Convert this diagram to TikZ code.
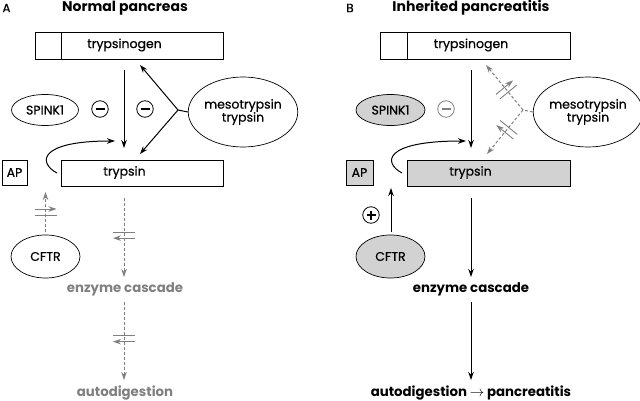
\documentclass[tikz,border=0pt]{standalone}
\usepackage{fontspec}
\setmainfont{Poppins}
\newfontfamily\labfont{Poppins}[FakeBold=0.6]
\usetikzlibrary{arrows.meta,decorations.markings,calc,shapes.geometric}
\definecolor{dgray}{HTML}{808080}
\definecolor{lfill}{HTML}{D2D2D2}
\tikzset{
  box/.style={draw,line width=0.7pt,minimum height=27pt,inner sep=0pt},
  ell/.style={draw,ellipse,line width=0.7pt,inner sep=0pt},
  lab/.style={font=\labfont\fontsize{12.5}{14}\selectfont,inner sep=0pt},
  ttl/.style={font=\fontsize{14}{16}\selectfont\bfseries,inner sep=0pt},
  blab/.style={font=\fontsize{13.3}{15}\selectfont\bfseries,inner sep=0pt},
  sgn/.style={draw,circle,line width=0.8pt,minimum size=16.5pt,inner sep=0pt},
  arr/.style={line width=1pt,-{Stealth[length=8pt,width=5.5pt]}},
  darr/.style={line width=1pt,dgray,dash pattern=on 3pt off 2pt,-{Stealth[length=8pt,width=5.5pt]}},
  dline/.style={line width=1pt,dgray,dash pattern=on 3pt off 2pt},
  blk/.style={postaction={decorate,decoration={markings,mark=at position #1 with {\draw[solid,dgray,line width=0.9pt] (-3,-11)--(-3,11) (3,-11)--(3,11);}}}},
}
\begin{document}
\begin{tikzpicture}[x=1pt,y=-1pt]
\useasboundingbox (0,0) rectangle (640,401);
% ---------- Panel A ----------
\node[lab,font=\labfont\fontsize{12}{14}\selectfont] (la) at (6.5,8) {A};
\node[ttl] (ta) at (125,8) {Normal pancreas};
\node[box,minimum width=26pt] (pa) at (48,45.5) {};
\node[box,minimum width=162pt] (ga) at (142,45.5) {};
\node[lab] (gat) at (124.5,45) {trypsinogen};
\node[box,minimum width=162pt,minimum height=26pt] (tra) at (142,173) {};
\node[lab] (trat) at (124.5,172.5) {trypsin};
\node[box,minimum width=25pt,minimum height=25pt,lab] (apa) at (14.5,172.5) {AP};
\node[ell,minimum width=67pt,minimum height=31pt,lab] (sa) at (45,110) {SPINK1};
\node[ell,minimum width=100pt,minimum height=70pt,lab,align=center] (ma) at (243,112) {mesotrypsin\\[-1pt]trypsin};
\node[ell,minimum width=69pt,minimum height=43pt,lab] (ca) at (45.5,256.5) {CFTR};
\node[sgn] (m1a) at (100,109) {};
\node[sgn] (m2a) at (145,109) {};
\draw[line width=1.1pt] ($(m1a)+(-4.5,0)$)--($(m1a)+(4.5,0)$);
\draw[line width=1.1pt] ($(m2a)+(-4.5,0)$)--($(m2a)+(4.5,0)$);
\coordinate (bra) at (178,110);
\coordinate (ua) at (140,65);
\coordinate (da) at (140,154);
\draw[line width=1pt] (ma.west) -- (bra);
\draw[arr] (bra) -- (ua);
\draw[arr] (bra) -- (da);
\coordinate (v1a) at (124,70);
\coordinate (v2a) at (124,148);
\draw[arr] (v1a) -- (v2a);
\coordinate (cs) at (57,173);
\coordinate (ce) at (115,141);
\draw[arr] (cs) .. controls (38,163) and (38,141) .. (ce);
\coordinate (cfa) at (45.5,232);
\coordinate (cfb) at (45.5,192);
\draw[darr,blk=0.5] (cfa) -- (cfb);
\node[blab,dgray] (ea) at (125,289) {enzyme cascade};
\node[blab,dgray] (aa) at (125,392.5) {autodigestion};
\coordinate (e1a) at (124,198);
\coordinate (e2a) at (124,277);
\draw[darr,blk=0.47] (e1a) -- (e2a);
\coordinate (e3a) at (124,302);
\coordinate (e4a) at (124,380);
\draw[darr,blk=0.47] (e3a) -- (e4a);
% ---------- Panel B ----------
\node[lab,font=\labfont\fontsize{12}{14}\selectfont] (lb) at (350,8) {B};
\node[ttl] (tb) at (471,8) {Inherited pancreatitis};
\node[box,minimum width=27pt] (pb) at (393.5,45.5) {};
\node[box,minimum width=163pt] (gb) at (488.5,45.5) {};
\node[lab] (gbt) at (471,45) {trypsinogen};
\node[box,fill=lfill,minimum width=163pt,minimum height=26pt] (trb) at (488.5,173) {};
\node[lab] (trbt) at (470.5,172.5) {trypsin};
\node[box,fill=lfill,minimum width=27pt,minimum height=25pt,lab] (apb) at (359.5,172.5) {AP};
\node[ell,fill=lfill,minimum width=69pt,minimum height=31pt,lab] (sb) at (390.5,110) {SPINK1};
\node[ell,minimum width=100pt,minimum height=70pt,lab,align=center] (mb) at (588,112) {mesotrypsin\\[-1pt]trypsin};
\node[ell,fill=lfill,minimum width=69pt,minimum height=43pt,lab] (cb) at (390.5,256.5) {CFTR};
\node[sgn,dgray] (m1b) at (446,109) {};
\draw[line width=1.1pt,dgray] ($(m1b)+(-4.5,0)$)--($(m1b)+(4.5,0)$);
\node[sgn] (p1b) at (371,215) {};
\draw[line width=1.1pt] ($(p1b)+(-4.5,0)$)--($(p1b)+(4.5,0)$) ($(p1b)+(0,-4.5)$)--($(p1b)+(0,4.5)$);
\coordinate (brb) at (523,110);
\coordinate (ub) at (486,65);
\coordinate (db) at (487,154);
\draw[dline] (mb.west) -- (brb);
\draw[darr,blk=0.45] (brb) -- (ub);
\draw[darr,blk=0.45] (brb) -- (db);
\coordinate (v1b) at (471,70);
\coordinate (v2b) at (471,148);
\draw[arr] (v1b) -- (v2b);
\coordinate (csb) at (402,173);
\coordinate (ceb) at (466,141);
\draw[arr] (csb) .. controls (383,163) and (383,141) .. (ceb);
\coordinate (cfc) at (391,232);
\coordinate (cfd) at (391,188);
\draw[arr] (cfc) -- (cfd);
\node[blab] (eb) at (471,289) {enzyme cascade};
\node[blab] (ab) at (471,392.5) {autodigestion $\rightarrow$ pancreatitis};
\coordinate (e1b) at (471,198);
\coordinate (e2b) at (471,277);
\draw[arr] (e1b) -- (e2b);
\coordinate (e3b) at (471,302);
\coordinate (e4b) at (471,380);
\draw[arr] (e3b) -- (e4b);
\end{tikzpicture}
\end{document}
